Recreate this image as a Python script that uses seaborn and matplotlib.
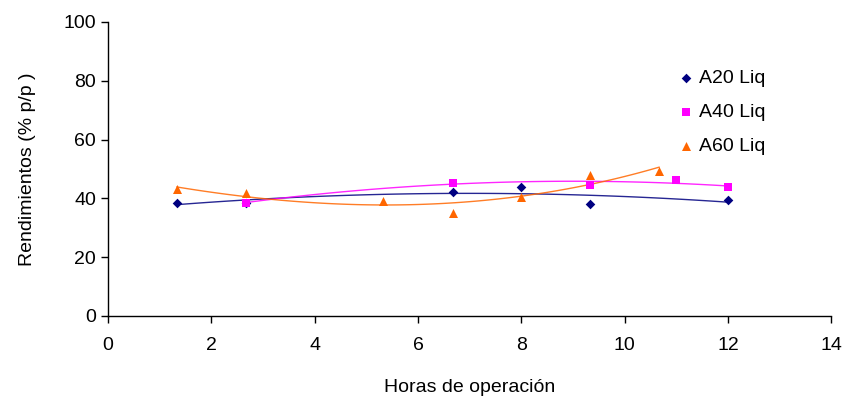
import numpy as np
import pandas as pd
import seaborn as sns
import matplotlib.pyplot as plt

# Horas de operación vs rendimientos (% p/p)
a20_x = [1.33, 2.67, 6.67, 8.0, 9.33, 12.0]
a20_y = [38.5, 38.3, 42.1, 44.0, 38.2, 39.3]

a40_x = [2.67, 6.67, 9.33, 11.0, 12.0]
a40_y = [38.5, 45.4, 44.6, 46.3, 43.8]

a60_x = [1.33, 2.67, 5.33, 6.67, 8.0, 9.33, 10.67]
a60_y = [43.2, 41.7, 39.2, 35.0, 40.6, 48.0, 49.2]

series = [
    ('A20 Liq', a20_x, a20_y, '#000080', 'D', 24, 2),
    ('A40 Liq', a40_x, a40_y, '#FF00FF', 's', 30, 2),
    ('A60 Liq', a60_x, a60_y, '#FF6600', '^', 42, 3),
]

sns.set_style('white')
plt.rcParams['font.family'] = ['Liberation Sans', 'DejaVu Sans']
plt.rcParams['text.color'] = 'black'
plt.rcParams['axes.labelcolor'] = 'black'
plt.rcParams['xtick.color'] = 'black'
plt.rcParams['ytick.color'] = 'black'

fig = plt.figure(figsize=(8.44, 4.0), dpi=100)
ax = fig.add_axes([0.128, 0.21, 0.857, 0.735])

handles = []
for name, xs, ys, color, marker, size, order in series:
    df = pd.DataFrame({'x': xs, 'y': ys})
    sns.regplot(data=df, x='x', y='y', order=order, ci=None, truncate=True, ax=ax,
                marker=marker,
                scatter_kws=dict(color=color, s=size, linewidths=0, alpha=1, zorder=3),
                line_kws=dict(color=color, lw=1.0, alpha=0.85))
    handles.append(ax.collections[-1])

ax.set_xlim(0, 14)
ax.set_ylim(0, 100)
ax.set_xticks(range(0, 15, 2))
ax.set_yticks(range(0, 101, 20))
ax.set_xlabel('Horas de operación', fontsize=14, labelpad=18)
ax.set_ylabel('Rendimientos (% p/p )', fontsize=14, labelpad=20)
ax.tick_params(axis='both', labelsize=14, direction='out', length=5, width=1,
               color='black', labelcolor='black', bottom=True, left=True)
ax.tick_params(axis='x', pad=10)
sns.despine(ax=ax)
for s in ['left', 'bottom']:
    ax.spines[s].set_color('black')
    ax.spines[s].set_linewidth(1)

ax.legend(handles, [s[0] for s in series], loc='upper left', bbox_to_anchor=(0.78, 0.87),
          bbox_transform=fig.transFigure, frameon=False, fontsize=14,
          handletextpad=0.2, labelspacing=0.85, handlelength=1.0)

fig.savefig('out.png', dpi=100)
